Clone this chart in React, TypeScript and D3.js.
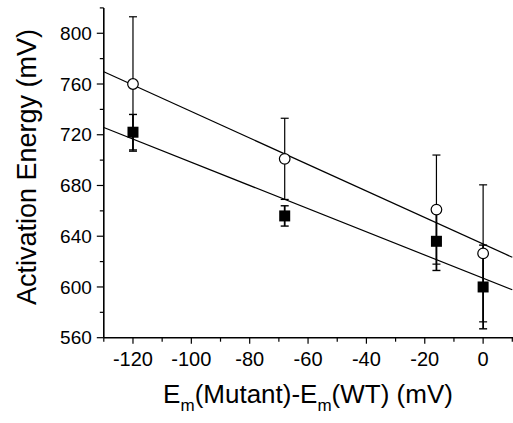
import React from "react";
import * as d3 from "d3";

const xValues = [-120, -68, -16, 0];
const openValues = [760, 701, 661, 626.5];
const openErrors = [53, 32, 43, 54];
const filledValues = [722, 656, 636, 600];
const filledErrors = [14, 8, 23, 33];
const xMajorTicks = [-120, -100, -80, -60, -40, -20, 0];
const xMinorTicks = [-130, -110, -90, -70, -50, -30, -10, 10];
const yMajorTicks = [560, 600, 640, 680, 720, 760, 800];
const yMinorTicks = [580, 620, 660, 700, 740, 780, 820];

const W = 513;
const H = 423;

function fit(xs: number[], ys: number[]) {
  const mx = d3.mean(xs)!;
  const my = d3.mean(ys)!;
  let sxy = 0, sxx = 0;
  xs.forEach((x, i) => {
    sxy += (x - mx) * (ys[i] - my);
    sxx += (x - mx) * (x - mx);
  });
  const slope = sxy / sxx;
  return { slope, intercept: my - slope * mx };
}

export default function App() {
  const x = d3.scaleLinear().domain([-130, 10]).range([103.8, 512.3]);
  const y = d3.scaleLinear().domain([560, 820]).range([337.7, 7.9]);
  const font = "Arial, 'Liberation Sans', sans-serif";
  const x0 = x(-130);
  const y0 = y(560);
  const fits = [fit(xValues, openValues), fit(xValues, filledValues)];
  const line = d3.line<number>().x((d) => x(d[0])).y((d) => y(d[1]));
  const cap = 4;

  return (
    <svg width={W} height={H} style={{ position: "absolute", left: 0, top: 0, background: "#fff" }}>
      <defs>
        <clipPath id="plot">
          <rect x={x0} y={y(820)} width={W - x0} height={y0 - y(820)} />
        </clipPath>
      </defs>
      <g clipPath="url(#plot)">
        {fits.map((f, i) => (
          <path
            key={i}
            d={line([[-130, f.intercept + f.slope * -130], [10, f.intercept + f.slope * 10]] as any) || ""}
            stroke="#000"
            strokeWidth={1.2}
            fill="none"
          />
        ))}
      </g>
      {/* error bars */}
      {xValues.map((xv, i) => {
        const cx = x(xv);
        const top = y(openValues[i] + openErrors[i]);
        const bot = y(openValues[i] - openErrors[i]);
        return (
          <g key={"oe" + i} stroke="#000" strokeWidth={1.2}>
            <line x1={cx} x2={cx} y1={top} y2={bot} />
            <line x1={cx - cap} x2={cx + cap} y1={top} y2={top} />
            <line x1={cx - cap} x2={cx + cap} y1={bot} y2={bot} />
          </g>
        );
      })}
      {xValues.map((xv, i) => {
        const cx = x(xv);
        const top = y(filledValues[i] + filledErrors[i]);
        const bot = y(filledValues[i] - filledErrors[i]);
        return (
          <g key={"fe" + i} stroke="#000" strokeWidth={1.8}>
            <line x1={cx} x2={cx} y1={top} y2={bot} />
            <line x1={cx - cap} x2={cx + cap} y1={top} y2={top} strokeWidth={1.4} />
            <line x1={cx - cap} x2={cx + cap} y1={bot} y2={bot} strokeWidth={1.4} />
          </g>
        );
      })}
      {/* markers */}
      {xValues.map((xv, i) => (
        <circle key={"oc" + i} cx={x(xv)} cy={y(openValues[i])} r={5.3} fill="#fff" stroke="#000" strokeWidth={1.2} />
      ))}
      {xValues.map((xv, i) => (
        <rect key={"fs" + i} x={x(xv) - 5.5} y={y(filledValues[i]) - 5.5} width={11} height={11} fill="#000" />
      ))}
      {/* axes */}
      <line x1={x0} x2={x0} y1={y(820)} y2={y0} stroke="#000" strokeWidth={1.6} />
      <line x1={x0} x2={W} y1={y0} y2={y0} stroke="#000" strokeWidth={1.6} />
      {yMajorTicks.map((t) => (
        <g key={"ym" + t}>
          <line x1={x0 - 7} x2={x0} y1={y(t)} y2={y(t)} stroke="#000" strokeWidth={1.2} />
          <text x={x0 - 12} y={y(t)} dy="0.35em" textAnchor="end" fontFamily={font} fontSize={19}>
            {t}
          </text>
        </g>
      ))}
      {yMinorTicks.map((t) => (
        <line key={"yn" + t} x1={x0 - 4} x2={x0} y1={y(t)} y2={y(t)} stroke="#000" strokeWidth={1.2} />
      ))}
      {xMajorTicks.map((t) => (
        <g key={"xm" + t}>
          <line x1={x(t)} x2={x(t)} y1={y0} y2={y0 + 6} stroke="#000" strokeWidth={1.2} />
          <text x={x(t)} y={y0 + 28} textAnchor="middle" fontFamily={font} fontSize={20}>
            {t}
          </text>
        </g>
      ))}
      {xMinorTicks.map((t) => (
        <line key={"xn" + t} x1={x(t)} x2={x(t)} y1={y0} y2={y0 + 4} stroke="#000" strokeWidth={1.2} />
      ))}
      {/* titles */}
      <text x={308} y={403} textAnchor="middle" fontFamily={font} fontSize={26}>
        <tspan>E</tspan>
        <tspan fontSize={17} dy={8}>m</tspan>
        <tspan dy={-8}>(Mutant)-E</tspan>
        <tspan fontSize={17} dy={8}>m</tspan>
        <tspan dy={-8}>(WT) (mV)</tspan>
      </text>
      <text
        transform={`translate(36,167) rotate(-90)`}
        textAnchor="middle"
        fontFamily={font}
        fontSize={27}
      >
        Activation Energy (mV)
      </text>
    </svg>
  );
}
